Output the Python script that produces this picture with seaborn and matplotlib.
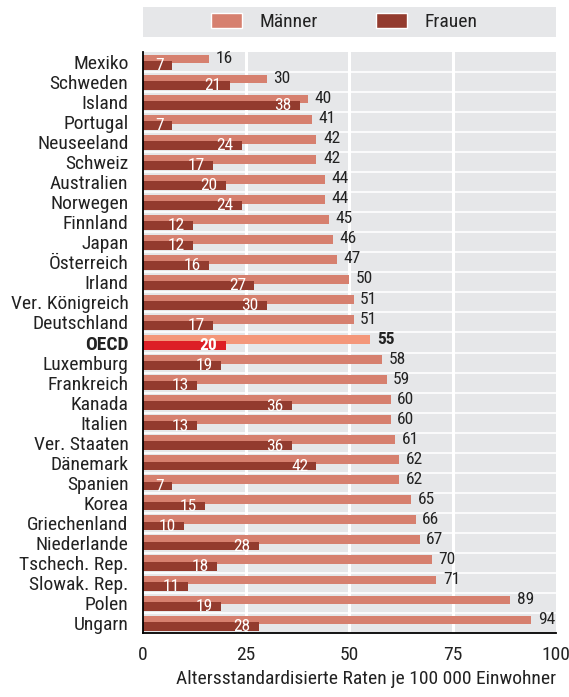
import matplotlib
matplotlib.use("Agg")
import matplotlib.pyplot as plt
from matplotlib.patches import Patch, Rectangle
import numpy as np
import pandas as pd
import seaborn as sns

# data
countries = ["Mexiko", "Schweden", "Island", "Portugal", "Neuseeland", "Schweiz",
             "Australien", "Norwegen", "Finnland", "Japan", "Österreich", "Irland",
             "Ver. Königreich", "Deutschland", "OECD", "Luxemburg", "Frankreich",
             "Kanada", "Italien", "Ver. Staaten", "Dänemark", "Spanien", "Korea",
             "Griechenland", "Niederlande", "Tschech. Rep.", "Slowak. Rep.", "Polen", "Ungarn"]
maenner = [16, 30, 40, 41, 42, 42, 44, 44, 45, 46, 47, 50, 51, 51, 55, 58, 59,
           60, 60, 61, 62, 62, 65, 66, 67, 70, 71, 89, 94]
frauen = [7, 21, 38, 7, 24, 17, 20, 24, 12, 12, 16, 27, 30, 17, 20, 19, 13,
          36, 13, 36, 42, 7, 15, 10, 28, 18, 11, 19, 28]
xticks = [0, 25, 50, 75, 100]
xlabel = "Altersstandardisierte Raten je 100 000 Einwohner"

c_m, c_f = "#d6806f", "#933b2e"
c_m_oecd, c_f_oecd = "#f4977a", "#dd1f26"
panel = "#e6e7e9"
txt = "#222222"

sns.set_theme(style="white")
plt.rcParams["font.family"] = ["Roboto Condensed", "Liberation Sans Narrow",
                               "Sofia Sans Condensed", "DejaVu Sans"]

pos = np.arange(len(countries))
df = pd.DataFrame({"country": countries, "m": maenner, "f": frauen, "pos": pos})
df["oecd"] = df["country"] == "OECD"

fig = plt.figure(figsize=(5.69, 6.97), dpi=100)
ax = fig.add_axes([0.2513, 0.0918, 0.7257, 0.8336])
ax.set_facecolor(panel)

# Männer bar on top half, Frauen bar shifted down and overlapping
sns.barplot(data=df.assign(y=df["pos"] - 0.15), x="m", y="y", hue="oecd",
            palette={False: c_m, True: c_m_oecd}, orient="h", native_scale=True,
            dodge=False, width=0.44, saturation=1, legend=False, ax=ax, zorder=3,
            linewidth=0)
sns.barplot(data=df.assign(y=df["pos"] + 0.16), x="f", y="y", hue="oecd",
            palette={False: c_f, True: c_f_oecd}, orient="h", native_scale=True,
            dodge=False, width=0.44, saturation=1, legend=False, ax=ax, zorder=4,
            linewidth=0)

for i, row in df.iterrows():
    w = "bold" if row["oecd"] else "normal"
    ax.text(row["m"] + 1.6, row["pos"] - 0.17, str(row["m"]), ha="left", va="center",
            fontsize=12.5, color=txt, fontweight=w, zorder=5)
    ax.text(row["f"] - 2.0, row["pos"] + 0.17, str(row["f"]), ha="right", va="center",
            fontsize=12.5, color="white", fontweight=w, zorder=5)

ax.set_xlim(0, 100)
ax.set_ylim(len(countries) - 0.5, -0.5)
ax.set_xticks(xticks)
ax.set_yticks(pos)
ax.set_yticklabels(countries)
for lab in ax.get_yticklabels():
    if lab.get_text() == "OECD":
        lab.set_fontweight("bold")
ax.set_yticks(np.arange(-0.5, len(countries), 1.0), minor=True)

ax.tick_params(axis="y", which="major", length=0, pad=10.5, labelsize=14, labelcolor=txt)
ax.tick_params(axis="y", which="minor", direction="in", length=5, width=1, color="black")
ax.tick_params(axis="x", which="major", direction="in", length=5, width=1, color="black",
               pad=9, labelsize=14, labelcolor=txt)

ax.grid(False)
for v in xticks[1:-1]:
    ax.axvline(v, color="white", lw=2.2, zorder=1)
for b in np.arange(0.5, len(countries) - 1, 1.0):
    ax.axhline(b, color="white", lw=1.2, zorder=1)

for s in ["top", "right"]:
    ax.spines[s].set_visible(False)
for s in ["left", "bottom"]:
    ax.spines[s].set_color("black")
    ax.spines[s].set_linewidth(1.3)
    ax.spines[s].set_zorder(6)

ax.set_ylabel("")
ax.set_xlabel(xlabel, loc="right", fontsize=14, color=txt, labelpad=5)

# legend in a grey strip above the plot
fig.patches.append(Rectangle((143 / 569, 1 - 37 / 697), 413 / 569, 30 / 697,
                             transform=fig.transFigure, facecolor=panel,
                             edgecolor="none", zorder=0))
handles = [Patch(facecolor=c_m, label="Männer"), Patch(facecolor=c_f, label="Frauen")]
fig.legend(handles=handles, loc="center", bbox_to_anchor=(344 / 569, 1 - 22 / 697),
           ncol=2, frameon=False, fontsize=14, handlelength=1.6, handleheight=0.85,
           handletextpad=0.9, columnspacing=3.0, labelcolor=txt)

fig.savefig("out.png", dpi=100)
